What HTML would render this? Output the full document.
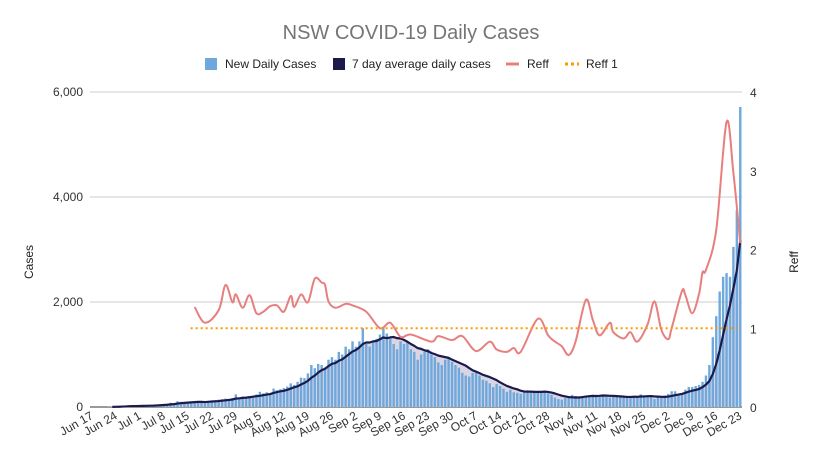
<!DOCTYPE html>
<html><head><meta charset="utf-8">
<style>
body{margin:0;background:#fff;}
svg{display:block;font-family:"Liberation Sans",Arial,sans-serif;}
</style></head>
<body>
<svg id="chart" width="820" height="450" viewBox="0 0 820 450" xmlns="http://www.w3.org/2000/svg">
<rect width="820" height="450" fill="#fff"/>
<text x="411" y="39" text-anchor="middle" font-size="20" fill="#757575">NSW COVID-19 Daily Cases</text>
<g font-size="12" fill="#222">
  <g><rect x="205" y="58" width="12" height="12" fill="#6fa8dc"/><text x="225" y="68">New Daily Cases</text></g>
  <g><rect x="333" y="58" width="12" height="12" fill="#1c1a4a"/><text x="352" y="68">7 day average daily cases</text></g>
  <g><line x1="506" y1="64" x2="519" y2="64" stroke="#e77f7f" stroke-width="3"/><text x="527" y="68">Reff</text></g>
  <g><line x1="565" y1="64" x2="579" y2="64" stroke="#ff9900" stroke-width="3" stroke-dasharray="3,3"/><text x="586" y="68">Reff 1</text></g>
</g>
<text transform="translate(33,262) rotate(-90)" text-anchor="middle" font-size="12" fill="#222">Cases</text>
<text transform="translate(798,262) rotate(-90)" text-anchor="middle" font-size="12" fill="#222">Reff</text>
<g id="grid"></g>
<g id="area"></g>
<g id="bars"></g>
<g id="lines"></g>
<g id="xlabels"></g>
</svg>
<script>
const dayLabels = ["Jun 17","Jun 24","Jul 1","Jul 8","Jul 15","Jul 22","Jul 29","Aug 5","Aug 12","Aug 19","Aug 26","Sep 2","Sep 9","Sep 16","Sep 23","Sep 30","Oct 7","Oct 14","Oct 21","Oct 28","Nov 4","Nov 11","Nov 18","Nov 25","Dec 2","Dec 9","Dec 16","Dec 23"];
const leftTicks = [0,2000,4000,6000];
const leftTickLabels = ["0","2,000","4,000","6,000"];
const rightTicks = [0,1,2,3,4];
const dailyCases = [
0,0,0,0,0,5,10,
11,10,20,20,30,20,15,
20,25,30,35,40,45,40,
50,60,80,70,110,100,80,
80,100,110,100,110,80,110,
120,130,140,150,160,130,170,
240,170,200,180,210,200,240,
290,260,280,250,350,320,340,
360,390,450,420,480,560,550,
640,800,740,820,800,750,900,
950,900,1050,1000,1150,1100,1250,
1150,1250,1500,1200,1150,1250,1300,
1380,1500,1400,1300,1200,1100,1250,
1200,1250,1100,1050,900,1000,1050,
1100,1000,950,850,800,900,950,
860,800,750,650,600,580,650,
690,600,520,500,450,380,440,
400,350,290,330,280,270,250,
300,320,300,300,280,270,280,
260,230,180,150,140,170,190,
230,210,180,200,210,220,230,
220,230,220,190,180,210,200,
190,190,180,190,210,200,240,
200,220,190,150,180,180,220,
250,300,300,230,260,330,380,
380,400,420,480,600,800,1330,
1730,2200,2480,2550,2480,3050,3750,
5715];
const reffDays = [30,33,37,39,41,42,44,46,48,50,52,54,56,58,59,61,63,65,67,68,69,71,74,76,80,84,87,90,93,99,101,105,108,112,116,118,121,123,125,130,133,135,137,139,141,144,146,148,151,152,155,157,159,162,164,166,168,169,172,173,175,177,178,179,182,185,187,189];
const reffVals = [1.27,1.07,1.23,1.55,1.33,1.43,1.26,1.42,1.19,1.21,1.28,1.29,1.21,1.41,1.27,1.43,1.33,1.63,1.58,1.55,1.34,1.26,1.31,1.29,1.21,1.0,1.07,0.89,0.92,0.83,0.9,0.85,0.9,0.71,0.83,0.73,0.7,0.75,0.7,1.12,0.91,0.83,0.77,0.66,0.83,1.36,1.11,0.91,1.07,0.95,0.87,0.95,0.83,1.05,1.34,0.98,0.86,1.0,1.47,1.42,1.19,1.44,1.71,1.74,2.25,3.62,2.97,2.08];
const reffThreshold = 1;
const reffThresholdStart = 30, reffThresholdEnd = 188;

const NS="http://www.w3.org/2000/svg";
const X0=90, X1=742, YT=92, YB=407, nDays=dailyCases.length;
const step=(X1-X0)/nDays;
const xs=i=>X0+(i+0.5)*step;
const yL=v=>YB-(v/6000)*(YB-YT);
const yR=v=>YB-(v/4)*(YB-YT);
function mk(tag,attrs,parent){const e=document.createElementNS(NS,tag);for(const k in attrs)e.setAttribute(k,attrs[k]);parent.appendChild(e);return e;}
const grid=document.getElementById('grid');
leftTicks.forEach((t,k)=>{
  const g=mk('line',{x1:X0,x2:X1,y1:yL(t),y2:yL(t),stroke:t===0?'#333':'#ccc','stroke-width':1},grid);
  
  
  const l=mk('text',{x:83,y:yL(t)+4,'font-size':12,fill:'#333','text-anchor':'end'},grid);l.textContent=leftTickLabels[k];
  
  
});
for(const t of rightTicks){
  const r=mk('text',{x:750,y:yR(t)+5,'font-size':12,fill:'#333'},grid);r.textContent=t;
  
  
}
const avg=dailyCases.map((v,i)=>{const s=dailyCases.slice(Math.max(0,i-6),i+1);return s.reduce((a,b)=>a+b,0)/s.length;});
const start=6;
let ap=`M${xs(start)},${YB}`;for(let i=start;i<nDays;i++)ap+=`L${xs(i)},${yL(avg[i])}`;ap+=`L${xs(nDays-1)},${YB}Z`;
const area=mk('path',{d:ap,fill:'#d9d5e3'},document.getElementById('area'));


const bars=document.getElementById('bars');
dailyCases.forEach((v,i)=>{
  if(v<=0)return;
  const b=mk('rect',{x:xs(i)-1.2,y:yL(v),width:2.4,height:YB-yL(v),fill:'#6fa8dc'},bars);
  
  
});
const lines=document.getElementById('lines');
let lp='';for(let i=start;i<nDays;i++)lp+=(i===start?'M':'L')+xs(i)+','+yL(avg[i]);
const al=mk('path',{d:lp,fill:'none',stroke:'#1c1a4a','stroke-width':2.2,'stroke-linejoin':'round'},lines);


const pts=reffDays.map((d,k)=>[xs(d),yR(reffVals[k])]);
let rp=`M${pts[0][0]},${pts[0][1]}`;
for(let k=0;k<pts.length-1;k++){const p0=pts[Math.max(0,k-1)],p1=pts[k],p2=pts[k+1],p3=pts[Math.min(pts.length-1,k+2)];
 rp+=`C${p1[0]+(p2[0]-p0[0])/6},${p1[1]+(p2[1]-p0[1])/6} ${p2[0]-(p3[0]-p1[0])/6},${p2[1]-(p3[1]-p1[1])/6} ${p2[0]},${p2[1]}`;}
const rl=mk('path',{d:rp,fill:'none',stroke:'#e77f7f','stroke-width':2,'stroke-linejoin':'round'},lines);


const th=mk('line',{x1:xs(reffThresholdStart)-4,x2:xs(reffThresholdEnd),y1:yR(reffThreshold),y2:yR(reffThreshold),stroke:'#ff9900','stroke-width':2,'stroke-dasharray':'2,3'},lines);


const xl=document.getElementById('xlabels');
dayLabels.forEach((lab,k)=>{
  const x=X0+k*7*step+4;
  const t=mk('text',{x:0,y:0,'font-size':12,fill:'#333','text-anchor':'end',transform:`translate(${x},${YB+11}) rotate(-30)`},xl);
  t.textContent=lab;
  
  
});
</script>
</body></html>
